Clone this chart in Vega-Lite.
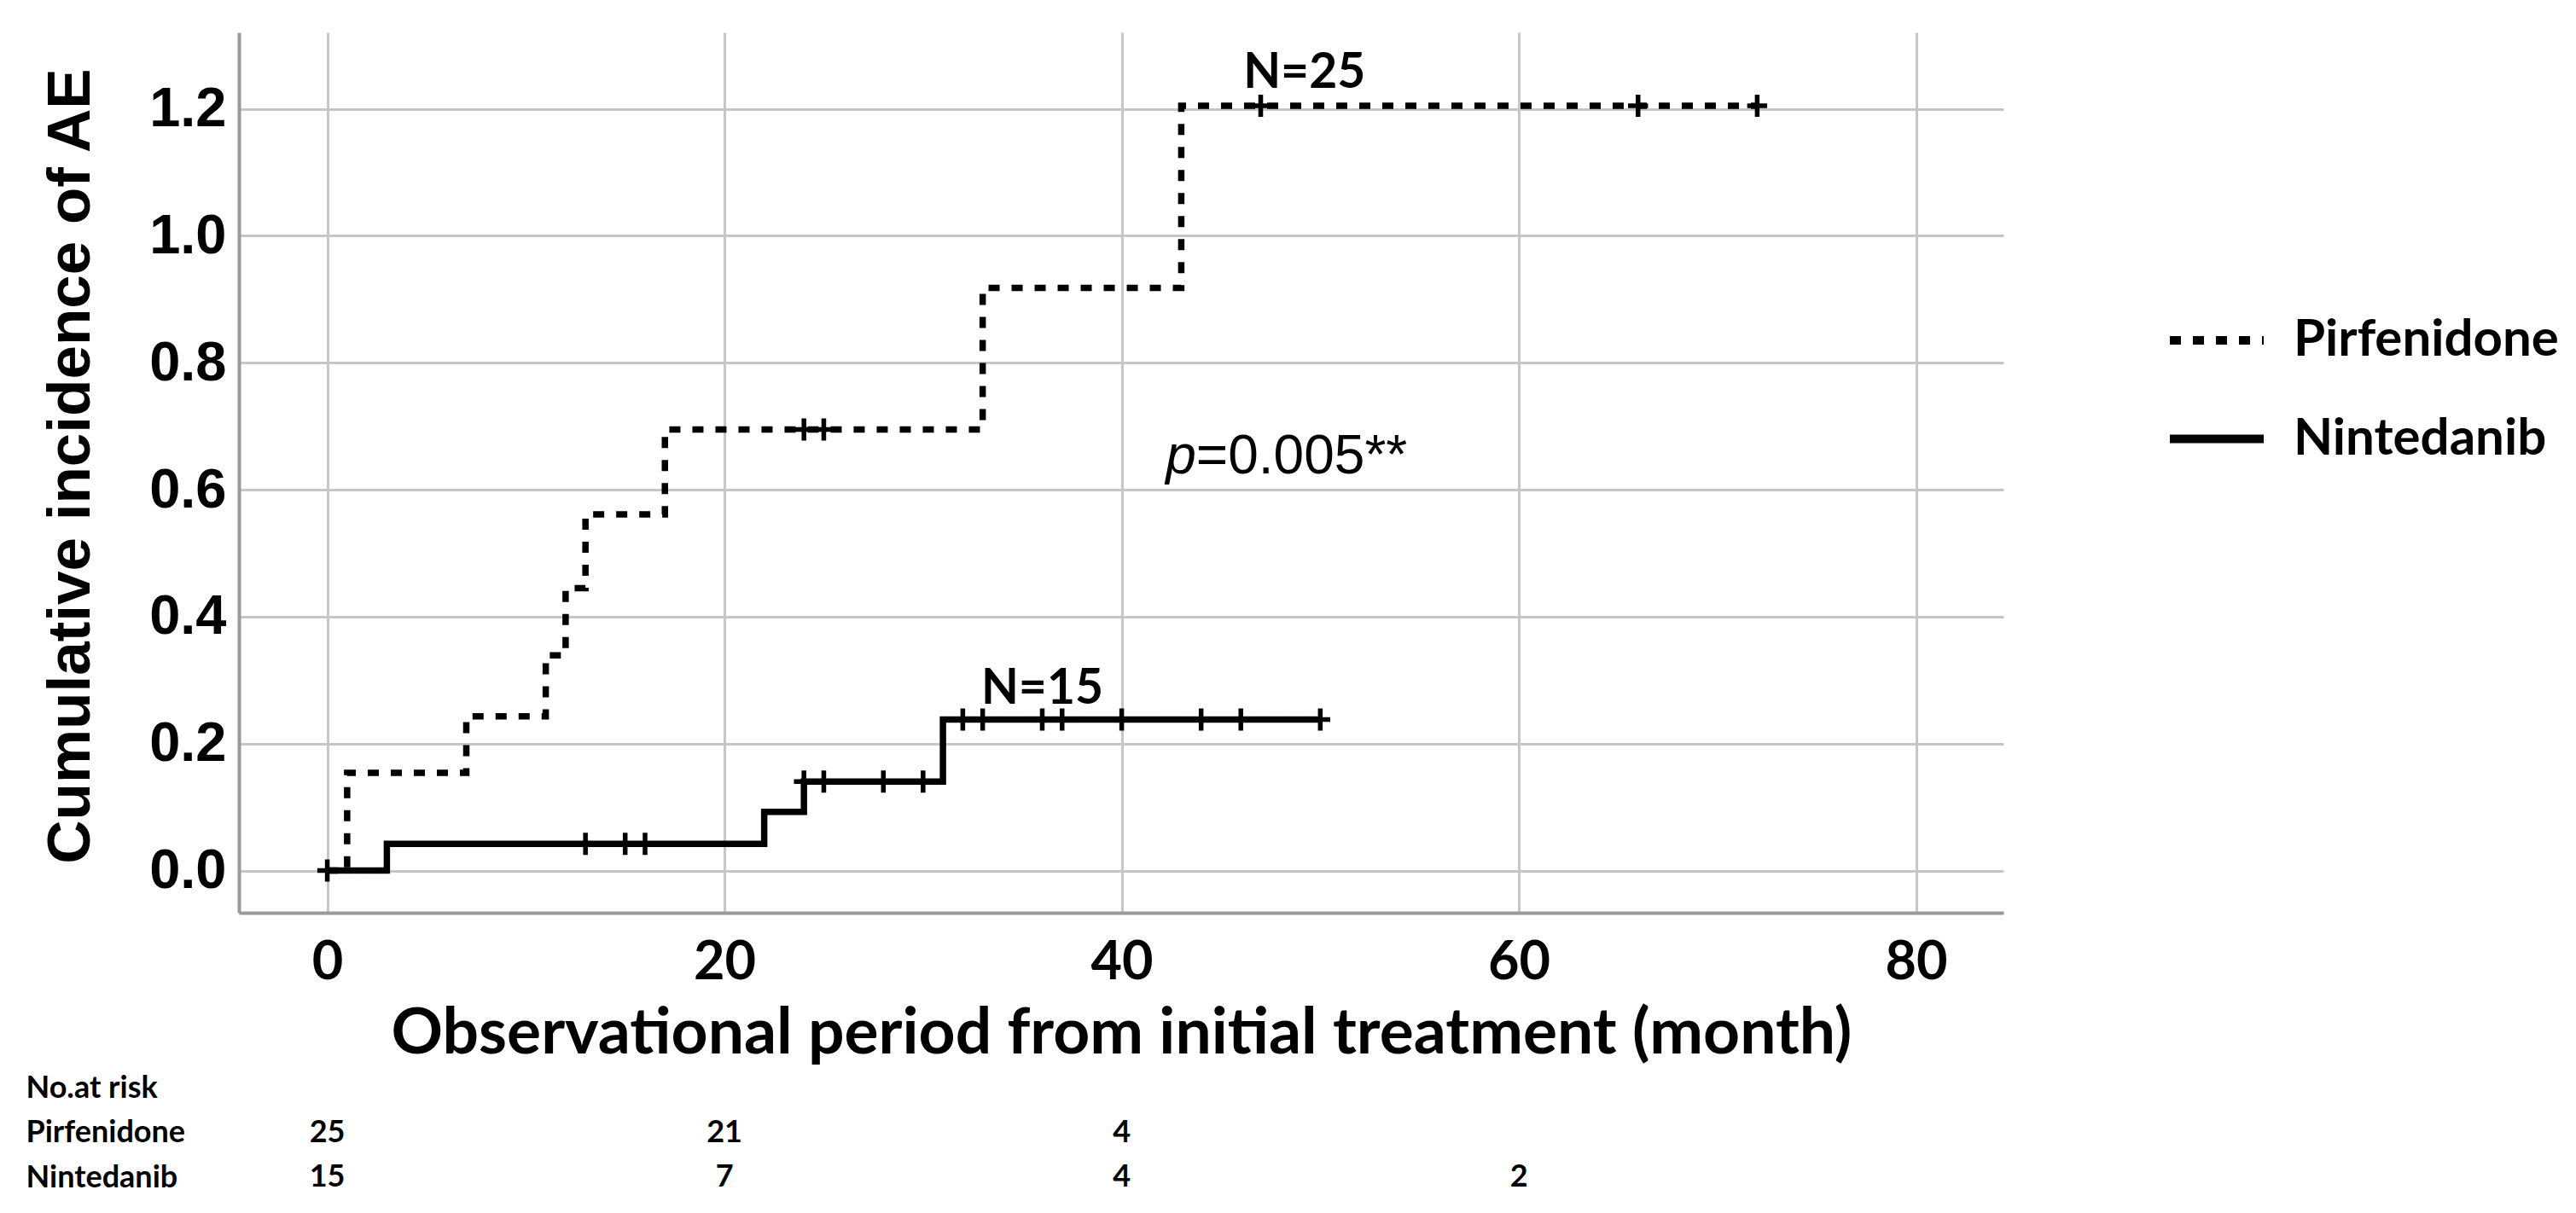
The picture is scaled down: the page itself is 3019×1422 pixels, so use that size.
{
  "$schema": "https://vega.github.io/schema/vega-lite/v6.json",
  "padding": {"left": 30, "top": 38, "right": 0, "bottom": 0},
  "background": "white",
  "config": {"view": {"stroke": null}, "font": "Lato"},
  "datasets": {
    "curves": [
      {"group": "Pirfenidone", "month": 0, "value": 0},
      {"group": "Pirfenidone", "month": 1, "value": 0.154},
      {"group": "Pirfenidone", "month": 7, "value": 0.243},
      {"group": "Pirfenidone", "month": 11, "value": 0.339},
      {"group": "Pirfenidone", "month": 12, "value": 0.445},
      {"group": "Pirfenidone", "month": 13, "value": 0.561},
      {"group": "Pirfenidone", "month": 17, "value": 0.695},
      {"group": "Pirfenidone", "month": 33, "value": 0.918},
      {"group": "Pirfenidone", "month": 43, "value": 1.205},
      {"group": "Pirfenidone", "month": 72, "value": 1.205},
      {"group": "Nintedanib", "month": 0, "value": 0},
      {"group": "Nintedanib", "month": 3, "value": 0.042},
      {"group": "Nintedanib", "month": 22, "value": 0.0925},
      {"group": "Nintedanib", "month": 24, "value": 0.14},
      {"group": "Nintedanib", "month": 31, "value": 0.238},
      {"group": "Nintedanib", "month": 50, "value": 0.238}
    ],
    "censors": [
      {"group": "Pirfenidone", "month": 24, "value": 0.695},
      {"group": "Pirfenidone", "month": 25, "value": 0.695},
      {"group": "Pirfenidone", "month": 47, "value": 1.205},
      {"group": "Pirfenidone", "month": 66, "value": 1.205},
      {"group": "Pirfenidone", "month": 72, "value": 1.205},
      {"group": "Nintedanib", "month": 0, "value": 0},
      {"group": "Nintedanib", "month": 13, "value": 0.042},
      {"group": "Nintedanib", "month": 15, "value": 0.042},
      {"group": "Nintedanib", "month": 16, "value": 0.042},
      {"group": "Nintedanib", "month": 24, "value": 0.14},
      {"group": "Nintedanib", "month": 25, "value": 0.14},
      {"group": "Nintedanib", "month": 28, "value": 0.14},
      {"group": "Nintedanib", "month": 30, "value": 0.14},
      {"group": "Nintedanib", "month": 32, "value": 0.238},
      {"group": "Nintedanib", "month": 33, "value": 0.238},
      {"group": "Nintedanib", "month": 36, "value": 0.238},
      {"group": "Nintedanib", "month": 37, "value": 0.238},
      {"group": "Nintedanib", "month": 40, "value": 0.238},
      {"group": "Nintedanib", "month": 44, "value": 0.238},
      {"group": "Nintedanib", "month": 46, "value": 0.238},
      {"group": "Nintedanib", "month": 50, "value": 0.238}
    ],
    "nlabels": [
      {"month": 49.2, "value": 1.233, "label": "N=25"},
      {"month": 36.0, "value": 0.263, "label": "N=15"}
    ],
    "pvalue": [
      {"month": 43.75, "value": 0.625}
    ],
    "risk": [
      {"row": "Pirfenidone", "month": 0, "n": 25},
      {"row": "Pirfenidone", "month": 20, "n": 21},
      {"row": "Pirfenidone", "month": 40, "n": 4},
      {"row": "Nintedanib", "month": 0, "n": 15},
      {"row": "Nintedanib", "month": 20, "n": 7},
      {"row": "Nintedanib", "month": 40, "n": 4},
      {"row": "Nintedanib", "month": 60, "n": 2}
    ]
  },
  "spacing": 0,
  "resolve": {"scale": {"x": "independent", "y": "independent"}},
  "vconcat": [
    {
      "width": 2068,
      "height": 1032,
      "layer": [
        {
          "data": {"name": "curves"},
          "mark": {"type": "line", "interpolate": "step-after", "color": "black", "strokeWidth": 7.5, "strokeCap": "butt"},
          "encoding": {
            "x": {
              "field": "month", "type": "quantitative",
              "scale": {"domain": [-4.45, 84.4], "nice": false, "zero": false},
              "axis": {
                "values": [0, 20, 40, 60, 80],
                "title": "Observational period from initial treatment (month)",
                "grid": true, "gridColor": "#c6c6c6", "gridWidth": 3,
                "domainColor": "#999999", "domainWidth": 4,
                "ticks": false, "tickSize": 0,
                "labelFont": "Lato", "labelFontWeight": "bold", "labelFontSize": 63, "labelColor": "black", "labelPadding": 27,
                "titleFont": "Lato", "titleFontWeight": "bold", "titleFontSize": 75, "titleColor": "black", "titlePadding": 15
              }
            },
            "y": {
              "field": "value", "type": "quantitative",
              "scale": {"domain": [-0.0665, 1.3205], "nice": false, "zero": false},
              "axis": {
                "values": [0, 0.2, 0.4, 0.6, 0.8, 1.0, 1.2],
                "format": ".1f",
                "title": "Cumulative incidence of AE",
                "grid": true, "gridColor": "#c6c6c6", "gridWidth": 3,
                "domainColor": "#999999", "domainWidth": 4,
                "ticks": false, "tickSize": 0,
                "labelFont": "Liberation Sans", "labelFontWeight": "bold", "labelFontSize": 65, "labelColor": "black", "labelPadding": 15,
                "titleFont": "Liberation Sans", "titleFontWeight": "bold", "titleFontSize": 71, "titleColor": "black", "titlePadding": 55,
                "titleY": 508
              }
            },
            "strokeDash": {
              "field": "group", "type": "nominal",
              "scale": {"domain": ["Pirfenidone", "Nintedanib"], "range": [[13, 14], [1, 0]]},
              "legend": {
                "orient": "none", "legendX": 2258, "legendY": 301,
                "title": null, "padding": 0,
                "symbolType": "stroke", "symbolSize": 12100, "symbolStrokeWidth": 10, "symbolStrokeColor": "black",
                "labelFont": "Lato", "labelFontWeight": "bold", "labelFontSize": 60, "labelColor": "black",
                "labelOffset": 30, "labelLimit": 0, "rowPadding": 25.5,
                "encode": {"symbols": {"update": {"strokeDash": {"signal": "datum.value === 'Pirfenidone' ? [23, 8] : [1, 0]"}}}}
              }
            }
          }
        },
        {
          "data": {"name": "censors"},
          "mark": {"type": "point", "shape": "M-0.9,0H0.9M0,-1V1", "filled": false, "stroke": "black", "strokeWidth": 5.5, "opacity": 1, "size": 676},
          "encoding": {
            "x": {"field": "month", "type": "quantitative"},
            "y": {"field": "value", "type": "quantitative"}
          }
        },
        {
          "data": {"name": "nlabels"},
          "mark": {"type": "text", "font": "Lato", "fontWeight": "bold", "fontSize": 57, "color": "black", "align": "center", "baseline": "alphabetic"},
          "encoding": {
            "x": {"field": "month", "type": "quantitative"},
            "y": {"field": "value", "type": "quantitative"},
            "text": {"field": "label", "type": "nominal"}
          }
        },
        {
          "data": {"name": "pvalue"},
          "mark": {"type": "text", "text": "p", "font": "Liberation Sans", "fontStyle": "italic", "fontSize": 64, "color": "black", "align": "right", "baseline": "alphabetic"},
          "encoding": {
            "x": {"field": "month", "type": "quantitative"},
            "y": {"field": "value", "type": "quantitative"}
          }
        },
        {
          "data": {"name": "pvalue"},
          "mark": {"type": "text", "text": "=0.005**", "font": "Liberation Sans", "fontSize": 64, "color": "black", "align": "left", "baseline": "alphabetic"},
          "encoding": {
            "x": {"field": "month", "type": "quantitative"},
            "y": {"field": "value", "type": "quantitative"}
          }
        }
      ]
    },
    {
      "width": 2068,
      "height": 157.5,
      "data": {"name": "risk"},
      "mark": {"type": "text", "font": "Lato", "fontWeight": "bold", "fontSize": 36, "color": "black", "align": "center", "baseline": "middle"},
      "encoding": {
        "x": {
          "field": "month", "type": "quantitative",
          "scale": {"domain": [-4.45, 84.4], "nice": false, "zero": false},
          "axis": null
        },
        "y": {
          "field": "row", "type": "nominal",
          "scale": {"domain": ["No.at risk", "Pirfenidone", "Nintedanib"], "padding": 0.5},
          "axis": {
            "title": null, "domain": false, "ticks": false, "tickSize": 0, "grid": false,
            "labelAlign": "left", "labelPadding": 250, "labelLimit": 0,
            "labelFont": "Lato", "labelFontWeight": "bold", "labelFontSize": 36, "labelColor": "black"
          }
        },
        "text": {"field": "n", "type": "quantitative"}
      }
    }
  ]
}
